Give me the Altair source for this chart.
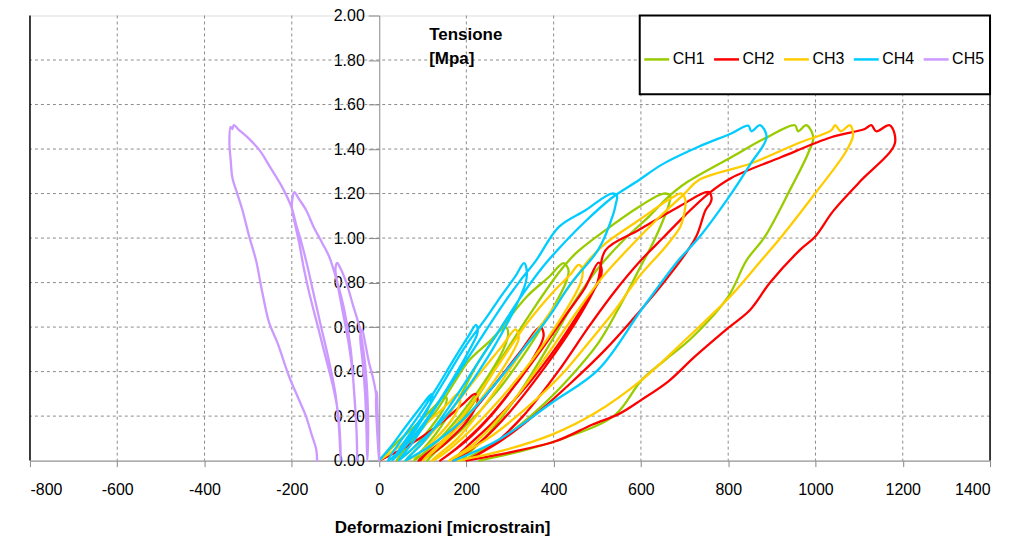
import altair as alt
import pandas as pd

# ---------------- data ----------------
channels = ["CH1", "CH2", "CH3", "CH4", "CH5"]
colors = ["#99CC00", "#FF0000", "#FFCC00", "#00CCFF", "#CC99FF"]

x_ticks = [-800, -600, -400, -200, 0, 200, 400, 600, 800, 1000, 1200, 1400]
y_ticks = [0.0, 0.2, 0.4, 0.6, 0.8, 1.0, 1.2, 1.4, 1.6, 1.8, 2.0]
grid_x = [-600, -400, -200, 200, 400, 600, 800, 1000, 1200]
grid_y = [0.2, 0.4, 0.6, 0.8, 1.0, 1.2, 1.4, 1.6, 1.8]
y_title = ["Tensione", "[Mpa]"]

ch1_x = [0, 40, 90, 130, 150, 155, 150, 115, 75, 40,
         80, 130, 175, 206, 250, 290, 296, 285, 250, 200, 140, 80,
         130, 180, 230, 290, 340, 389, 423, 434, 430, 396, 340, 270, 190, 130, 110,
         170, 230, 300, 360, 410, 450, 519, 595, 652, 667, 665, 633, 595, 556, 503, 440, 370, 290, 220, 190,
         250, 320, 390, 450, 500, 560, 620, 660, 702, 807, 884, 953, 960, 979, 995, 983, 945, 884, 842, 800,
         716, 656, 602, 541, 427, 320, 230]
ch1_y = [0, 0.08, 0.17, 0.25, 0.29, 0.28, 0.24, 0.14, 0.05, 0,
         0.10, 0.22, 0.36, 0.45, 0.53, 0.60, 0.57, 0.50, 0.38, 0.24, 0.10, 0,
         0.12, 0.27, 0.45, 0.62, 0.74, 0.825, 0.887, 0.856, 0.81, 0.677, 0.50, 0.31, 0.14, 0.04, 0,
         0.13, 0.30, 0.52, 0.70, 0.84, 0.93, 1.036, 1.14, 1.20, 1.19, 1.157, 1.0, 0.856, 0.71, 0.53, 0.38, 0.24, 0.11, 0.03, 0,
         0.12, 0.30, 0.52, 0.72, 0.86, 0.99, 1.10, 1.18, 1.246, 1.363, 1.448, 1.507, 1.48, 1.507, 1.454, 1.38, 1.23, 1.006, 0.90, 0.737,
         0.551, 0.453, 0.363, 0.206, 0.103, 0.04, 0]

ch2_x = [0, 60, 130, 190, 220, 226, 210, 170, 120, 90,
         140, 200, 260, 320, 370, 377, 350, 300, 240, 180, 140,
         200, 260, 320, 380, 430, 470, 503, 510, 507, 470, 410, 340, 260, 200, 170,
         230, 300, 380, 450, 500, 519, 595, 686, 755, 762, 759, 748, 725, 656, 579, 519, 440, 360, 280, 220, 200,
         260, 330, 410, 480, 540, 600, 650, 700, 755, 807, 922, 1036, 1113, 1128, 1139, 1170, 1182, 1100, 1040, 999,
         964, 896, 850, 800, 724, 663, 602, 549, 488, 404, 274, 200]
ch2_y = [0, 0.06, 0.15, 0.25, 0.30, 0.27, 0.20, 0.11, 0.03, 0,
         0.08, 0.19, 0.33, 0.48, 0.60, 0.56, 0.45, 0.31, 0.17, 0.06, 0,
         0.09, 0.21, 0.36, 0.52, 0.66, 0.77, 0.89, 0.86, 0.82, 0.70, 0.52, 0.34, 0.17, 0.06, 0,
         0.08, 0.22, 0.42, 0.62, 0.80, 0.946, 1.036, 1.14, 1.207, 1.18, 1.157, 1.125, 1.0, 0.81, 0.63, 0.50, 0.35, 0.21, 0.09, 0.02, 0,
         0.07, 0.20, 0.40, 0.60, 0.76, 0.90, 1.00, 1.10, 1.20, 1.27, 1.364, 1.453, 1.49, 1.507, 1.48, 1.507, 1.426, 1.25, 1.12, 1.006,
         0.946, 0.80, 0.677, 0.596, 0.468, 0.356, 0.274, 0.209, 0.161, 0.087, 0.027, 0]

ch3_x = [0, 50, 110, 160, 180, 186, 172, 135, 90, 60,
         110, 170, 230, 280, 313, 320, 295, 250, 190, 130, 100,
         150, 210, 280, 340, 400, 440, 457, 466, 462, 420, 350, 270, 190, 140, 120,
         180, 250, 320, 390, 450, 480, 519, 595, 670, 693, 702, 698, 690, 656, 595, 541, 480, 420, 340, 250, 180, 160,
         220, 300, 380, 450, 510, 570, 640, 700, 732, 853, 960, 1036, 1045, 1058, 1079, 1086, 1067, 999, 922, 876,
         808, 762, 702, 602, 496, 396, 274, 180]
ch3_y = [0, 0.07, 0.17, 0.26, 0.30, 0.27, 0.20, 0.11, 0.03, 0,
         0.10, 0.24, 0.39, 0.51, 0.59, 0.55, 0.45, 0.32, 0.17, 0.05, 0,
         0.10, 0.25, 0.45, 0.62, 0.76, 0.84, 0.88, 0.86, 0.80, 0.65, 0.45, 0.26, 0.10, 0.02, 0,
         0.10, 0.27, 0.47, 0.66, 0.82, 0.90, 0.976, 1.08, 1.18, 1.20, 1.17, 1.10, 1.05, 0.96, 0.825, 0.677, 0.53, 0.39, 0.24, 0.10, 0.02, 0,
         0.08, 0.25, 0.46, 0.66, 0.82, 0.95, 1.09, 1.20, 1.26, 1.336, 1.426, 1.484, 1.507, 1.48, 1.507, 1.46, 1.38, 1.20, 1.006, 0.90,
         0.744, 0.655, 0.543, 0.363, 0.215, 0.117, 0.04, 0]

ch4_x = [0, 30, 60, 95, 115, 122, 118, 100, 70, 40, 20,
         50, 90, 130, 170, 205, 222, 226, 205, 170, 125, 80, 45, 30,
         60, 100, 150, 200, 245, 280, 313, 332, 338, 336, 305, 260, 200, 140, 80, 45,
         80, 130, 180, 230, 280, 320, 360, 412, 473, 533, 545, 542, 537, 503, 441, 389, 330, 260, 190, 120, 70, 60,
         100, 160, 220, 280, 330, 375, 420, 470, 533, 595, 648, 732, 807, 846, 853, 873, 888, 850, 807, 732,
         686, 602, 503, 396, 274, 171]
ch4_y = [0, 0.07, 0.15, 0.24, 0.29, 0.30, 0.26, 0.19, 0.10, 0.03, 0,
         0.09, 0.20, 0.32, 0.45, 0.56, 0.61, 0.58, 0.49, 0.37, 0.23, 0.11, 0.03, 0,
         0.09, 0.20, 0.36, 0.52, 0.64, 0.74, 0.83, 0.887, 0.86, 0.80, 0.66, 0.50, 0.32, 0.17, 0.06, 0,
         0.09, 0.24, 0.39, 0.54, 0.69, 0.80, 0.90, 1.05, 1.125, 1.20, 1.19, 1.15, 1.11, 0.95, 0.80, 0.646, 0.50, 0.33, 0.18, 0.07, 0.01, 0,
         0.08, 0.24, 0.42, 0.60, 0.75, 0.87, 0.97, 1.07, 1.18, 1.26, 1.33, 1.41, 1.47, 1.505, 1.48, 1.507, 1.454, 1.33, 1.20, 1.0,
         0.90, 0.68, 0.41, 0.26, 0.094, 0]

ch5_x = [0, -2, -4, -5, -7, -4, 0,
         -4, -7, -15, -23, -32, -39, -43, -38, -32, -29, -27,
         -25, -27, -33, -45, -60, -75, -90, -96, -100, -98, -84, -70, -61, -55, -51, -50,
         -52, -57, -65, -80, -100, -114, -130, -150, -167, -185, -194, -200, -199, -183, -172, -160, -140, -121, -105, -93, -89, -88,
         -92, -100, -115, -135, -150, -165, -178, -190, -201, -222, -250, -274, -300, -320, -333, -336, -340, -343, -340, -336,
         -325, -313, -298, -282, -268, -252, -233, -206, -185, -167, -155, -144, -142]
ch5_y = [0, 0.12, 0.25, 0.31, 0.27, 0.12, 0,
         0.15, 0.30, 0.38, 0.44, 0.53, 0.59, 0.56, 0.45, 0.30, 0.15, 0,
         0.15, 0.30, 0.45, 0.60, 0.70, 0.80, 0.87, 0.888, 0.86, 0.825, 0.677, 0.53, 0.40, 0.25, 0.10, 0,
         0.15, 0.30, 0.50, 0.68, 0.83, 0.915, 0.977, 1.05, 1.125, 1.18, 1.206, 1.15, 1.125, 0.977, 0.86, 0.753, 0.60, 0.453, 0.33, 0.20, 0.09, 0,
         0.15, 0.30, 0.45, 0.62, 0.75, 0.88, 0.98, 1.06, 1.14, 1.229, 1.32, 1.395, 1.45, 1.484, 1.507, 1.49, 1.50, 1.43, 1.35, 1.27,
         1.20, 1.125, 1.01, 0.90, 0.76, 0.62, 0.53, 0.377, 0.28, 0.197, 0.12, 0.05, 0]

# ---------------- build tables ----------------
rows = []
for name, xs, ys in zip(channels, [ch1_x, ch2_x, ch3_x, ch4_x, ch5_x],
                        [ch1_y, ch2_y, ch3_y, ch4_y, ch5_y]):
    for i, (xv, yv) in enumerate(zip(xs, ys)):
        rows.append({"ch": name, "x": xv, "y": yv, "i": i})
df = pd.DataFrame(rows)

W, H = 962, 446
FONT = "Liberation Sans"

xscale = alt.Scale(domain=[-800, 1400], nice=False, zero=False)
yscale = alt.Scale(domain=[0, 2], nice=False)

x_axis = alt.Axis(values=x_ticks, grid=False, domainColor="#888888", tickColor="#888888",
                  tickSize=6, labelFontSize=16, labelFont=FONT, labelColor="black",
                  labelPadding=15, labelExpr="'' + datum.value",
                  title="Deformazioni [microstrain]", titleFont=FONT, titleFontSize=17,
                  titleFontWeight="bold", titleColor="black", titleX=413, titleY=72,
                  titleBaseline="alphabetic", titleAlign="center")
y_axis = alt.Axis(values=y_ticks, format=".2f", grid=False, offset=-350,
                  domainColor="#888888", tickColor="#888888", tickSize=11,
                  labelPadding=4, labelFontSize=16, labelFont=FONT, labelColor="black",
                  title=None)

vgrid = alt.Chart(pd.DataFrame({"x": grid_x})).mark_rule(
    color="#8c8c8c", strokeDash=[3, 3], strokeWidth=1
).encode(x=alt.X("x:Q", scale=xscale, axis=x_axis))

hgrid = alt.Chart(pd.DataFrame({"y": grid_y})).mark_rule(
    color="#8c8c8c", strokeDash=[3, 3], strokeWidth=1
).encode(y=alt.Y("y:Q", scale=yscale, axis=y_axis))

lines = alt.Chart(df).mark_line(strokeWidth=2.3, strokeJoin="round", strokeCap="round",
                                interpolate="catmull-rom").encode(
    x=alt.X("x:Q", scale=xscale, axis=x_axis),
    y=alt.Y("y:Q", scale=yscale, axis=y_axis),
    color=alt.Color("ch:N", scale=alt.Scale(domain=channels, range=colors),
                    legend=alt.Legend(title=None, orient="none", legendX=614, legendY=30,
                                      direction="horizontal", columns=5, symbolType="stroke",
                                      symbolSize=625, symbolStrokeWidth=2.5, labelFontSize=16,
                                      labelFont=FONT, labelColor="black", labelOffset=2,
                                      columnPadding=3, padding=0)),
    order=alt.Order("i:Q"),
)

one = pd.DataFrame({"a": [0]})
legend_box = alt.Chart(one).mark_rect(fill="white", stroke="black", strokeWidth=2).encode(
    x=alt.value(611), x2=alt.value(962), y=alt.value(0), y2=alt.value(79)
)

borders = alt.Chart(pd.DataFrame({"x": [-800, 1400]})).mark_rule(color="black", strokeWidth=1.5).encode(
    x=alt.X("x:Q", scale=xscale, axis=x_axis)
)

t1 = alt.Chart(one).mark_text(align="left", baseline="alphabetic", font=FONT, fontSize=17,
                              fontWeight="bold", color="black").encode(
    x=alt.value(400), y=alt.value(25), text=alt.value(y_title[0]))
t2 = alt.Chart(one).mark_text(align="left", baseline="alphabetic", font=FONT, fontSize=17,
                              fontWeight="bold", color="black").encode(
    x=alt.value(400), y=alt.value(49), text=alt.value(y_title[1]))

chart = alt.layer(vgrid, hgrid, legend_box, lines, borders, t1, t2).properties(
    width=W, height=H,
    autosize=alt.AutoSizeParams(type="none"),
    padding={"left": 22, "top": 7, "right": 18, "bottom": 76},
).configure_view(stroke="#888888", strokeWidth=1).configure(background="white")

chart.save("out.html", embed_options={"renderer": "svg", "actions": False})
